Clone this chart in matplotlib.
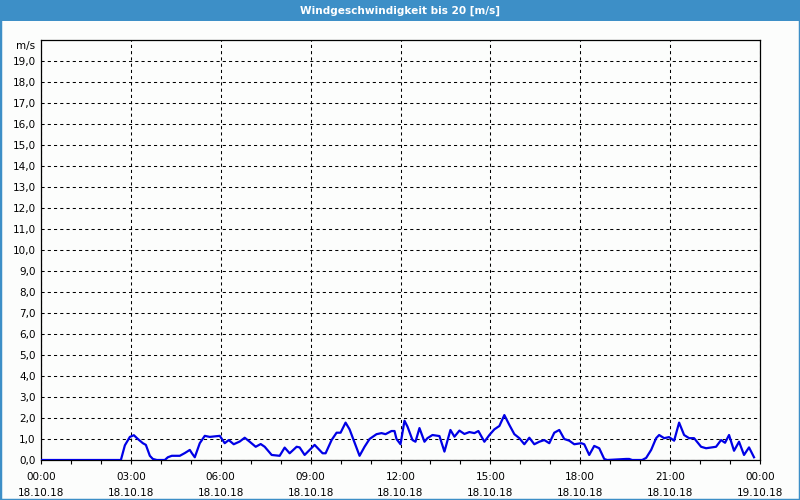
"""Windgeschwindigkeit ueber einen Tag (18.10.18) als Liniendiagramm."""

import matplotlib
matplotlib.use("Agg")  # kein Display vorhanden
import matplotlib.pyplot as plt
from matplotlib.patches import Rectangle
from matplotlib.ticker import MultipleLocator

# ============ Daten ============
# Zeit in Minuten seit 18.10.18 00:00
minutes = [
    0, 160, 168, 178, 186, 194, 204, 210, 218, 224, 232, 248, 254, 262, 278,
    288, 298, 302, 308, 318, 328, 338, 358, 368, 376, 386, 398, 408, 418, 430,
    440, 448, 462, 478, 488, 498, 512, 518, 528, 548, 564, 570, 582, 592, 600,
    610, 618, 638, 648, 658, 672, 682, 690, 702, 708, 712, 720, 728, 734, 744,
    750, 758, 768, 774, 784, 798, 808, 820, 828, 838, 848, 858, 868, 876, 888,
    898, 908, 918, 928, 938, 948, 958, 968, 978, 988, 998, 1008, 1018, 1028,
    1038, 1048, 1058, 1068, 1082, 1088, 1098, 1108, 1118, 1128, 1134, 1172,
    1178, 1184, 1204, 1212, 1222, 1232, 1238, 1248, 1258, 1268, 1278, 1288,
    1298, 1308, 1322, 1332, 1352, 1362, 1370, 1378, 1388, 1398, 1408, 1418,
    1428,
]
wind_speed = [
    0.0, 0.0, 0.70, 1.10, 1.18, 1.00, 0.80, 0.72, 0.20, 0.05, 0.0, 0.0, 0.13,
    0.20, 0.20, 0.33, 0.48, 0.33, 0.13, 0.80, 1.15, 1.10, 1.15, 0.80, 0.95,
    0.75, 0.88, 1.06, 0.87, 0.63, 0.76, 0.63, 0.24, 0.20, 0.59, 0.32, 0.63,
    0.60, 0.24, 0.72, 0.32, 0.32, 0.95, 1.30, 1.30, 1.78, 1.46, 0.20, 0.63,
    1.00, 1.23, 1.28, 1.23, 1.38, 1.38, 1.00, 0.75, 1.87, 1.59, 0.95, 0.87,
    1.52, 0.87, 1.04, 1.19, 1.14, 0.40, 1.43, 1.11, 1.40, 1.24, 1.33, 1.28,
    1.38, 0.87, 1.19, 1.46, 1.62, 2.14, 1.67, 1.23, 1.04, 0.75, 1.06, 0.75,
    0.87, 0.95, 0.80, 1.30, 1.43, 1.00, 0.92, 0.75, 0.80, 0.75, 0.24, 0.67,
    0.56, 0.05, 0.0, 0.05, 0.05, 0.0, 0.0, 0.10, 0.48, 1.04, 1.19, 1.04, 1.09,
    0.92, 1.78, 1.19, 1.04, 1.04, 0.63, 0.56, 0.63, 0.95, 0.82, 1.19, 0.44,
    0.87, 0.24, 0.60, 0.13,
]

x_tick_minutes = [0, 180, 360, 540, 720, 900, 1080, 1260, 1440]
x_tick_labels = [
    "00:00\n18.10.18", "03:00\n18.10.18", "06:00\n18.10.18",
    "09:00\n18.10.18", "12:00\n18.10.18", "15:00\n18.10.18",
    "18:00\n18.10.18", "21:00\n18.10.18", "00:00\n19.10.18",
]
y_ticks = list(range(0, 20))
y_tick_labels = [f"{v:.1f}".replace(".", ",") for v in y_ticks]
Y_MAX = 20
UNIT = "m/s"

TITLE = "Windgeschwindigkeit bis 20 [m/s]"
BAR_COLOR = "#3d8fc7"
BG_COLOR = "#fcfdfc"
LINE_COLOR = "#0000e6"

plt.rcParams["font.family"] = ["DejaVu Sans"]

fig = plt.figure(figsize=(8, 5), dpi=100, facecolor=BG_COLOR)
ax = fig.add_axes([41 / 800, 40 / 500, 719 / 800, 420 / 500])
ax.set_facecolor(BG_COLOR)

# Titelleiste und Fensterrahmen
fig.patches.append(Rectangle((0, 1 - 21 / 500), 1, 21 / 500, transform=fig.transFigure,
                             facecolor=BAR_COLOR, edgecolor="none", zorder=0))
fig.patches.append(Rectangle((0, 0), 1, 1, transform=fig.transFigure,
                             facecolor="none", edgecolor=BAR_COLOR, linewidth=2.5, zorder=5))
fig.text(0.5, 1 - 11 / 500, TITLE, color="white", fontsize=7.6, fontweight="bold",
         ha="center", va="center")

# Datenlinie
ax.plot(minutes, wind_speed, color=LINE_COLOR, linewidth=1.6, zorder=3)

ax.set_xlim(0, 1440)
ax.set_ylim(0, Y_MAX)

ax.set_xticks(x_tick_minutes)
ax.set_xticklabels(x_tick_labels, fontsize=7.5, linespacing=1.75)
ax.xaxis.set_minor_locator(MultipleLocator(60))
ax.tick_params(axis="x", which="both", direction="out", length=3, width=0.8, pad=6)

ax.set_yticks(y_ticks)
ax.set_yticklabels(y_tick_labels, fontsize=7.5)
ax.tick_params(axis="y", length=0, pad=4)

# Einheit oben links, etwas unterhalb der Achsenoberkante
ax.annotate(UNIT, xy=(0, Y_MAX), xycoords=("axes fraction", "data"),
            xytext=(-4, -1), textcoords="offset points", ha="right", va="top",
            fontsize=7.5)

ax.grid(True, which="major", color="black", linestyle=(0, (3, 3)), linewidth=0.75)
for spine in ax.spines.values():
    spine.set_color("black")
    spine.set_linewidth(0.9)

fig.savefig("out.png", dpi=100, facecolor=BG_COLOR)
